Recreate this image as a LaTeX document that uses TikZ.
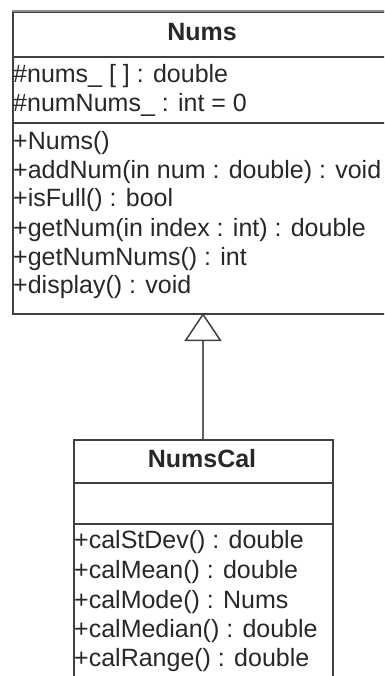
\documentclass[tikz,border=0pt]{standalone}
\usepackage{fontspec}
\setmainfont{Liberation Sans}
\usetikzlibrary{arrows.meta}
\definecolor{linecol}{HTML}{404040}
\definecolor{toplinecol}{HTML}{8E8E8E}
\definecolor{txtcol}{HTML}{282828}
\tikzset{
  classbox/.style={draw=linecol, line width=1.9pt, fill=white, inner sep=0pt, anchor=north west},
  sepline/.style={draw=linecol, line width=1.9pt},
  member/.style={anchor=base west, inner sep=0pt, font=\fontsize{25}{29}\selectfont, text=txtcol},
  classtitle/.style={anchor=base, inner sep=0pt, font=\fontsize{25}{29}\selectfont\bfseries, text=txtcol},
  inherit/.style={draw=gray!75!black, line width=2.4pt, -{Triangle[open, length=28pt, width=37pt, line width=1.5pt, color=linecol, fill=white]}}
}
\begin{document}
\begin{tikzpicture}[x=1pt, y=-1pt]
\clip (0,0) rectangle (384,676);
\fill[white] (0,0) rectangle (384,676);
% Nums class
\node[classbox, minimum width=382pt, minimum height=302pt] (nums) at (12,11) {};
\draw[toplinecol, line width=2.6pt] (nums.north west) -- (nums.north east);
\coordinate (n1) at (12,57);
\coordinate (n2) at (12,123);
\draw[sepline] (n1) -- (n1 -| nums.east);
\draw[sepline] (n2) -- (n2 -| nums.east);
\node[classtitle] (numsT) at (202,41) {Nums};
\node[member] (a1) at (13,83) {\#nums\_ [ ] : double};
\node[member] (a2) at (13,112) {\#numNums\_ : int = 0};
\node[member] (m1) at (13,150) {+Nums()};
\node[member] (m2) at (13,179) {+addNum(in num : double) : void};
\node[member] (m3) at (13,207) {+isFull() : bool};
\node[member] (m4) at (13,236) {+getNum(in index : int) : double};
\node[member] (m5) at (13,265) {+getNumNums() : int};
\node[member] (m6) at (13,293) {+display() : void};
% NumsCal class
\node[classbox, minimum width=259pt, minimum height=280pt] (cal) at (73,439) {};
\coordinate (c1) at (73,483);
\coordinate (c2) at (73,524);
\draw[sepline] (c1) -- (c1 -| cal.east);
\draw[sepline] (c2) -- (c2 -| cal.east);
\node[classtitle] (calT) at (202,467) {NumsCal};
\node[member] (k1) at (74,548) {+calStDev() : double};
\node[member] (k2) at (74,578) {+calMean() : double};
\node[member] (k3) at (74,608) {+calMode() : Nums};
\node[member] (k4) at (74,637) {+calMedian() : double};
\node[member] (k5) at (74,666) {+calRange() : double};
% inheritance
\coordinate (apex) at (203,313);
\draw[inherit] (cal.north -| apex) -- (apex);
\end{tikzpicture}
\end{document}
